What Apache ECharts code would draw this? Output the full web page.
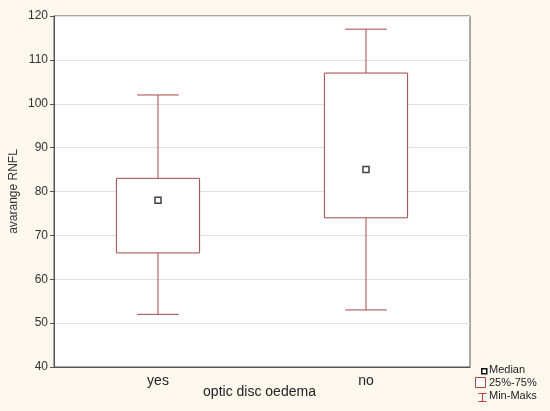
<!DOCTYPE html>
<html>
<head>
<meta charset="utf-8">
<script src="https://cdn.jsdelivr.net/npm/echarts@6/dist/echarts.min.js"></script>
<style>
html,body{margin:0;padding:0;background:#fcf8ee;}
#chart{width:550px;height:411px;}
</style>
</head>
<body>
<div id="chart"></div>
<script>
const categories = ['yes', 'no'];
const minVals = [52, 53];
const q1Vals = [66, 74];
const medianVals = [78, 85];
const q3Vals = [83, 107];
const maxVals = [102, 117];
const yTicks = [40, 50, 60, 70, 80, 90, 100, 110, 120];

const boxColor = '#a84646';
const font = 'Liberation Sans, Arial, sans-serif';

const boxData = categories.map((c, i) => [i, minVals[i], q1Vals[i], medianVals[i], q3Vals[i], maxVals[i]]);
const medianData = categories.map((c, i) => [i, medianVals[i]]);

function renderWhisker(params, api) {
  const x = api.value(0);
  const band = api.size([1, 0])[0];
  const capW = band * 0.2;
  const pMin = api.coord([x, api.value(1)]);
  const pQ1 = api.coord([x, api.value(2)]);
  const pQ3 = api.coord([x, api.value(4)]);
  const pMax = api.coord([x, api.value(5)]);
  const style = { stroke: boxColor, lineWidth: 1, fill: null };
  return {
    type: 'group',
    children: [
      { type: 'line', shape: { x1: pMax[0], y1: pMax[1], x2: pQ3[0], y2: pQ3[1] }, style },
      { type: 'line', shape: { x1: pQ1[0], y1: pQ1[1], x2: pMin[0], y2: pMin[1] }, style },
      { type: 'line', shape: { x1: pMax[0] - capW / 2, y1: pMax[1], x2: pMax[0] + capW / 2, y2: pMax[1] }, style },
      { type: 'line', shape: { x1: pMin[0] - capW / 2, y1: pMin[1], x2: pMin[0] + capW / 2, y2: pMin[1] }, style }
    ]
  };
}

function renderBox(params, api) {
  const x = api.value(0);
  const band = api.size([1, 0])[0];
  const w = band * 0.4;
  const pQ1 = api.coord([x, api.value(2)]);
  const pQ3 = api.coord([x, api.value(4)]);
  return {
    type: 'rect',
    shape: { x: pQ1[0] - w / 2, y: pQ3[1], width: w, height: pQ1[1] - pQ3[1] },
    style: { stroke: boxColor, lineWidth: 1, fill: '#ffffff' }
  };
}

const chart = echarts.init(document.getElementById('chart'), null, { renderer: 'canvas' });
chart.setOption({
  backgroundColor: '#fcf8ee',
  animation: false,
  grid: {
    left: 54, right: 80, top: 16, bottom: 44,
    outerBoundsMode: 'none',
    containLabel: false,
    show: true, backgroundColor: '#ffffff', borderColor: '#555555', borderWidth: 1
  },
  xAxis: {
    type: 'category',
    data: categories,
    boundaryGap: true,
    name: 'optic disc oedema',
    nameLocation: 'middle',
    nameGap: 18,
    nameMoveOverlap: false,
    nameTextStyle: { fontFamily: font, fontSize: 14, color: '#222222', padding: [0, 5, 0, 0] },
    axisLine: { lineStyle: { color: '#555555' } },
    axisTick: { inside: true, alignWithLabel: true, length: 3, lineStyle: { color: '#555555' } },
    axisLabel: { fontFamily: font, fontSize: 14, color: '#222222', margin: 7 },
    splitLine: { show: false }
  },
  yAxis: {
    type: 'value',
    min: yTicks[0],
    max: yTicks[yTicks.length - 1],
    interval: 10,
    name: 'avarange RNFL',
    nameLocation: 'middle',
    nameGap: 34,
    nameMoveOverlap: false,
    nameTextStyle: { fontFamily: font, fontSize: 12, color: '#333333' },
    axisLine: { show: true, lineStyle: { color: '#555555' } },
    axisTick: { show: true, length: 4, lineStyle: { color: '#555555' } },
    axisLabel: { fontFamily: font, fontSize: 12, color: '#333333', margin: 6 },
    splitLine: { lineStyle: { color: '#e2e2e2' } }
  },
  series: [
    {
      name: 'Min-Maks', type: 'custom', renderItem: renderWhisker,
      encode: { x: 0, y: [1, 2, 3, 4, 5] }, data: boxData, z: 2
    },
    {
      name: '25%-75%', type: 'custom', renderItem: renderBox,
      encode: { x: 0, y: [1, 2, 3, 4, 5] }, data: boxData, z: 3
    },
    {
      name: 'Median', type: 'scatter', symbol: 'rect', symbolSize: 6,
      itemStyle: { color: '#ffffff', borderColor: '#111111', borderWidth: 1.5 },
      data: medianData, z: 4
    }
  ],
  graphic: [
    { type: 'rect', left: 481, top: 368, shape: { width: 5, height: 5 }, style: { fill: '#fff', stroke: '#111', lineWidth: 1.5 } },
    { type: 'text', left: 489, top: 364, style: { text: 'Median', font: '11px ' + font, fill: '#222' } },
    { type: 'rect', left: 475, top: 377, shape: { width: 10, height: 10 }, style: { fill: '#fff', stroke: boxColor, lineWidth: 1 } },
    { type: 'text', left: 489, top: 377, style: { text: '25%-75%', font: '11px ' + font, fill: '#222' } },
    { type: 'group', left: 476, top: 391, children: [
      { type: 'line', shape: { x1: 0, y1: 0.5, x2: 8, y2: 0.5 }, style: { stroke: '#c03a3a', lineWidth: 1 } },
      { type: 'line', shape: { x1: 4, y1: 0.5, x2: 4, y2: 8.5 }, style: { stroke: '#c03a3a', lineWidth: 1 } },
      { type: 'line', shape: { x1: 0, y1: 8.5, x2: 8, y2: 8.5 }, style: { stroke: '#c03a3a', lineWidth: 1 } }
    ] },
    { type: 'text', left: 489, top: 390, style: { text: 'Min-Maks', font: '11px ' + font, fill: '#222' } }
  ]
});
</script>
</body>
</html>
